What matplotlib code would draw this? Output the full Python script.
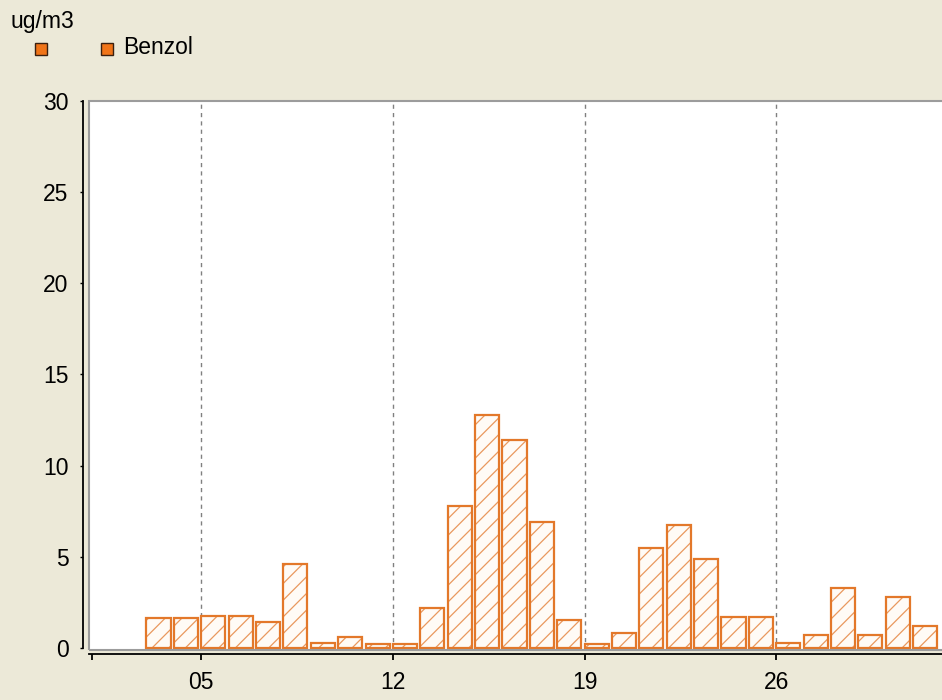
# %% import modules
import matplotlib
matplotlib.use("Agg")
import matplotlib.pyplot as plt
from matplotlib.patches import Rectangle

# %% data
days = [3, 4, 5, 6, 7, 8, 9, 10, 11, 12, 13, 14, 15, 16, 17,
        18, 19, 20, 21, 22, 23, 24, 25, 26, 27, 28, 29, 30, 31]
benzol = [1.65, 1.65, 1.75, 1.75, 1.45, 4.6, 0.3, 0.62, 0.22, 0.22, 2.2, 7.8, 12.8, 11.4, 6.9,
          1.53, 0.22, 0.82, 5.5, 6.72, 4.9, 1.72, 1.72, 0.3, 0.72, 3.3, 0.72, 2.82, 1.2]
tick_days = [1, 5, 12, 19, 26]
tick_labels = ["", "05", "12", "19", "26"]
yticks = [0, 5, 10, 15, 20, 25, 30]
unit = "ug/m3"
series = "Benzol"

bg = "#ECE9D8"
orange = "#E3782A"
plt.rcParams["font.family"] = ["Liberation Sans", "DejaVu Sans"]
plt.rcParams["hatch.linewidth"] = 0.9

# %% figure
W, H = 942, 700
fig = plt.figure(figsize=(W / 100, H / 100), dpi=100, facecolor=bg)
ax = fig.add_axes([89 / W, 50 / H, (960 - 89) / W, 549 / H])
ax.set_facecolor("white")

# hatch layer in a lighter orange, then the outline on top
ax.bar(days, benzol, width=0.88, align="edge", facecolor="#FFFBF6",
       edgecolor="#E9985E", hatch="//", linewidth=0, zorder=3)
ax.bar(days, benzol, width=0.88, align="edge", facecolor="none",
       edgecolor=orange, linewidth=1.6, zorder=4)

ax.set_xlim(0.9, 0.9 + 871 / 27.38)
ax.set_ylim(-0.11, 30)
ax.set_xticks(tick_days)
ax.set_xticklabels(tick_labels)
ax.set_yticks(yticks)

# vertical dashed grid at the labelled days
for d in tick_days[1:]:
    ax.axvline(d, color="#808080", lw=1, ls=(0, (3, 3)), zorder=1)

# spines: detached black axes, thin grey plot frame
for s in ["top", "right"]:
    ax.spines[s].set_visible(False)
ax.spines["left"].set_position(("outward", 4.3))
ax.spines["left"].set_bounds(0, 30)
ax.spines["bottom"].set_position(("outward", 3.0))
for s in ["left", "bottom"]:
    ax.spines[s].set_color("black")
    ax.spines[s].set_linewidth(1.3)
ax.add_patch(Rectangle((0, 0), 1, 1, transform=ax.transAxes, fill=False,
                       edgecolor="#9C9C9C", lw=1.5, zorder=5, clip_on=False))

ax.tick_params(axis="y", length=2.3, width=1, pad=8, labelsize=16.5, colors="black")
ax.tick_params(axis="x", length=4.3, width=1.3, pad=8, labelsize=16.5, colors="black")

# legend and unit, drawn in figure pixels
fig.text(11 / W, 1 - 28 / H, unit, fontsize=16.5, va="baseline", ha="left")
for x0 in (35, 101):
    fig.add_artist(Rectangle((x0 / W, 1 - 55 / H), 12 / W, 12 / H,
                             transform=fig.transFigure, facecolor="#F07418",
                             edgecolor="#3A2010", lw=1))
fig.text(123 / W, 1 - 47 / H, series, fontsize=16.5, va="center", ha="left")

fig.savefig("out.png", dpi=100, facecolor=bg)
